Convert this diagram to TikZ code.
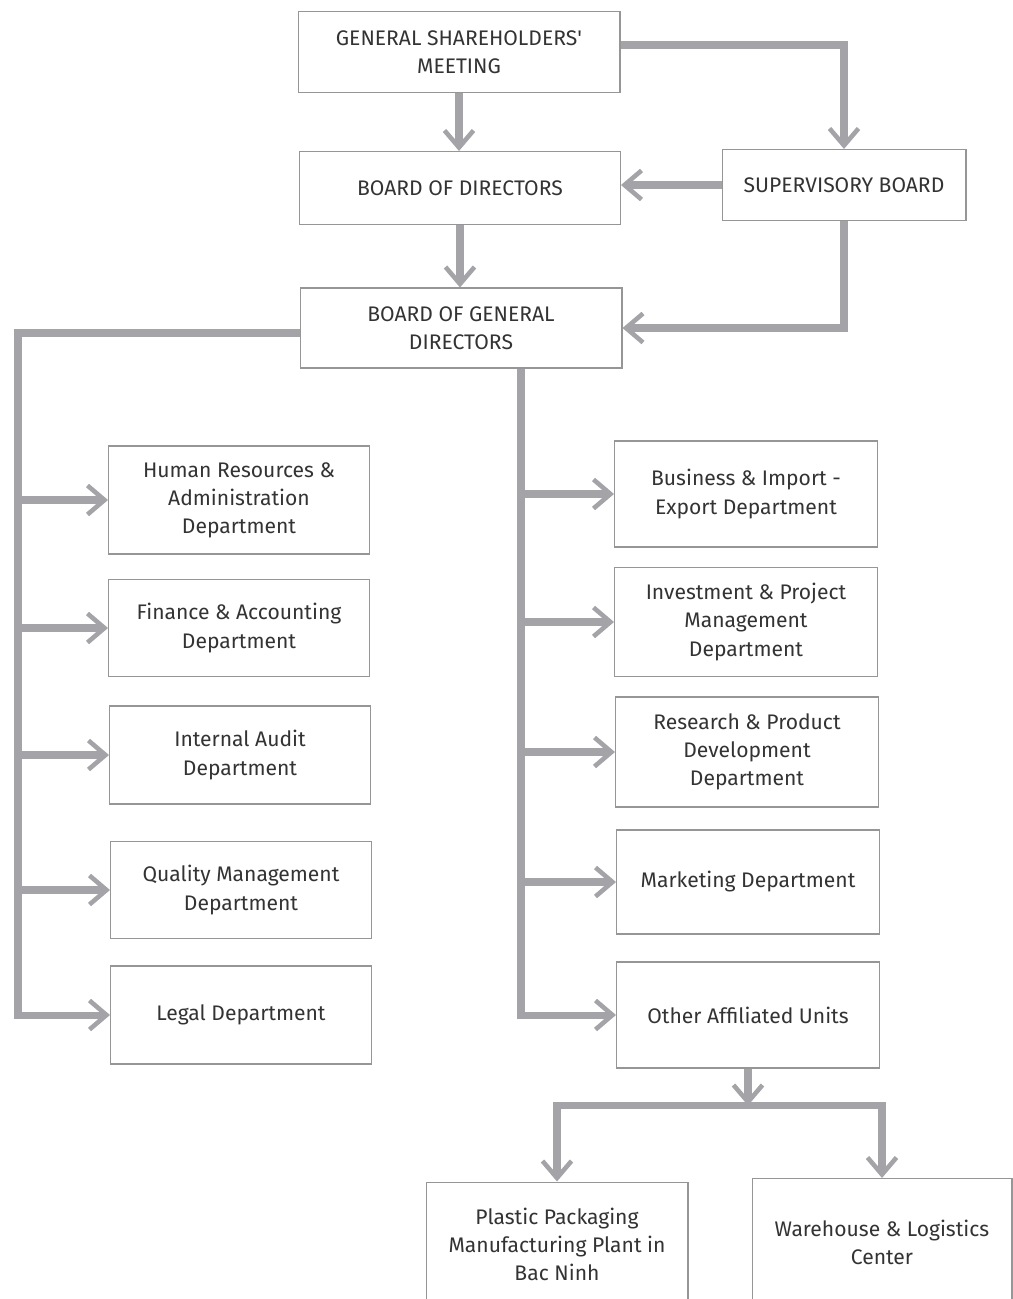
\documentclass[tikz,border=0pt]{standalone}
\usepackage{fontspec}
\setmainfont{Fira Sans}
\usetikzlibrary{arrows.meta}
\usetikzlibrary{calc}
\definecolor{cinzaseta}{RGB}{163,163,168}
\definecolor{cinzaborda}{RGB}{150,150,150}
\tikzset{caixa/.style={draw=cinzaborda,line width=0.6pt,fill=white,align=center,
                       text=black!80,font=\fontsize{12}{16}\selectfont,inner sep=0pt}}
\tikzset{linha/.style={draw=cinzaseta,line width=4pt}}
\tikzset{seta/.style={linha,-{Straight Barb[length=3.4mm,width=5.8mm,line width=2.6pt]}}}

\begin{document}
\begin{tikzpicture}[x=0.02cm,y=-0.02cm,
                    esq/.style={caixa,minimum width=5.22cm},
                    dir/.style={caixa,minimum width=5.26cm}]

		\useasboundingbox (0,0) rectangle (1013,1299);

		% Topo da estrutura
		\node [caixa, minimum width=6.44cm, minimum height=1.62cm] (assembleia)
			at (459,52) {GENERAL SHAREHOLDERS\textquotesingle\\MEETING};
		\node [caixa, minimum width=6.42cm, minimum height=1.46cm] (conselho)
			at (460,188) {BOARD OF DIRECTORS};
		\node [caixa, minimum width=4.88cm, minimum height=1.42cm] (fiscal)
			at (844,185) {SUPERVISORY BOARD};
		\node [caixa, minimum width=6.44cm, minimum height=1.60cm] (diretoria)
			at (461,328) {BOARD OF GENERAL\\DIRECTORS};

		% Coluna da esquerda
		\node [esq, minimum height=2.16cm] (rh)   at (239,500)  {Human Resources \&\\Administration\\Department};
		\node [esq, minimum height=1.94cm] (fin)  at (239,628)  {Finance \& Accounting\\Department};
		\node [esq, minimum height=1.96cm] (aud)  at (240,755)  {Internal Audit\\Department};
		\node [esq, minimum height=1.94cm] (qual) at (241,890)  {Quality Management\\Department};
		\node [esq, minimum height=1.96cm] (jur)  at (241,1015) {Legal Department};

		% Coluna da direita
		\node [dir, minimum height=2.12cm] (neg)    at (746,494)  {Business \& Import -\\Export Department};
		\node [dir, minimum height=2.18cm] (inv)    at (746,622)  {Investment \& Project\\Management\\Department};
		\node [dir, minimum height=2.20cm] (pesq)   at (747,752)  {Research \& Product\\Development\\Department};
		\node [dir, minimum height=2.08cm] (mkt)    at (748,882)  {Marketing Department};
		\node [dir, minimum height=2.12cm] (outras) at (748,1015) {Other Affiliated Units};

		% Unidades de baixo
		\node [caixa, minimum width=5.24cm, minimum height=2.48cm] (fabrica)
			at (557,1244) {Plastic Packaging\\Manufacturing Plant in\\Bac Ninh};
		\node [caixa, minimum width=5.20cm, minimum height=2.54cm] (armazem)
			at (882,1242) {Warehouse \& Logistics\\Center};

		% Pontos auxiliares
		\coordinate (tronco esq) at (18,0);
		\coordinate (tronco dir) at (521,0);
		\coordinate (barra) at ($(outras.south)+(0,37)$);

		% Setas do topo
		\draw [seta] (assembleia.south) -- (assembleia.south |- conselho.north);
		\draw [seta] ([yshift=0.14cm]assembleia.east) -| (fiscal.north);
		\draw [seta] (fiscal.west) -- (fiscal.west -| conselho.east);
		\draw [seta] (conselho.south) -- (conselho.south |- diretoria.north);
		\draw [seta] (fiscal.south) |- (diretoria.east);

		% Ramo da esquerda
		\draw [seta] ([yshift=-0.1cm]diretoria.west) -| (tronco esq |- jur.west) -- (jur.west);
		\foreach \n in {rh,fin,aud,qual}
			\draw [seta] (tronco esq |- \n.west) -- (\n.west);

		% Ramo da direita
		\draw [seta] (tronco dir |- diretoria.south) |- (outras.west);
		\foreach \n in {neg,inv,pesq,mkt}
			\draw [seta] (tronco dir |- \n.west) -- (\n.west);

		% Unidades afiliadas
		\draw [seta] (outras.south) -- (barra);
		\draw [linha, {Straight Barb[length=3.4mm,width=5.8mm,line width=2.6pt]}-{Straight Barb[length=3.4mm,width=5.8mm,line width=2.6pt]}]
			(fabrica.north) |- (barra) -| (armazem.north);

	\end{tikzpicture}
\end{document}
